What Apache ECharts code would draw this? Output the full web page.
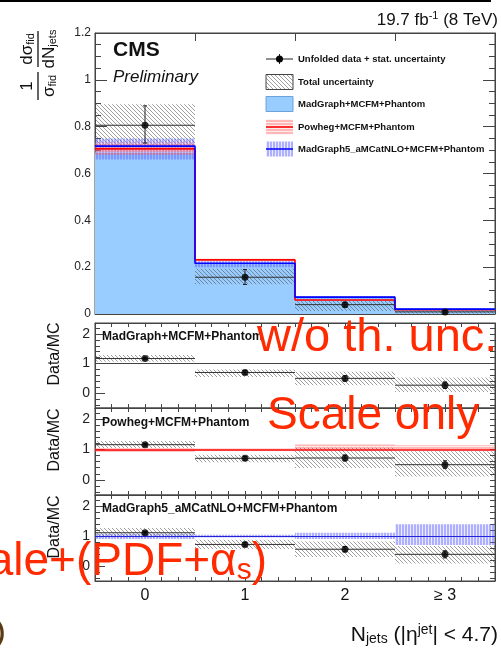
<!DOCTYPE html>
<html><head><meta charset="utf-8">
<script src="https://cdn.jsdelivr.net/npm/echarts@6/dist/echarts.min.js"></script>
<style>html,body{margin:0;padding:0;background:#fff}#c{width:501px;height:654px}</style>
</head><body><div id="c"></div>
<script>
// ---------- data ----------
const BIN_CENTERS = [0, 1, 2, 3];
const X_LABELS = ['0', '1', '2', '≥ 3'];
// top panel: normalized distribution
const DATA = [0.806, 0.157, 0.040, 0.009];
const DATA_STAT_LO = [0.730, 0.126, 0.030, 0.004];
const DATA_STAT_HI = [0.889, 0.190, 0.050, 0.015];
const TOTAL_LO = [0.720, 0.127, 0.013, 0.002];
const TOTAL_HI = [0.896, 0.193, 0.056, 0.016];
const MG = [0.690, 0.218, 0.072, 0.022];
const POWHEG = [0.705, 0.231, 0.060, 0.018];
const POWHEG_LO = [0.680, 0.226, 0.057, 0.016];
const POWHEG_HI = [0.732, 0.236, 0.064, 0.021];
const AMC = [0.717, 0.217, 0.072, 0.021];
const AMC_LO = [0.660, 0.200, 0.066, 0.017];
const AMC_HI = [0.750, 0.226, 0.077, 0.025];
// ratio panel 1: MadGraph (w/o th. unc.)
const R1 = [1.17, 0.70, 0.50, 0.27];
const R1_STAT_LO = [1.13, 0.64, 0.41, 0.16];
const R1_STAT_HI = [1.21, 0.76, 0.59, 0.38];
const R1_TOT_LO = [1.06, 0.55, 0.27, 0.04];
const R1_TOT_HI = [1.29, 0.80, 0.72, 0.53];
// ratio panel 2: Powheg (scale only)
const R2 = [1.16, 0.71, 0.72, 0.50];
const R2_STAT_LO = [1.12, 0.65, 0.62, 0.37];
const R2_STAT_HI = [1.20, 0.77, 0.82, 0.63];
const R2_TOT_LO = [1.05, 0.58, 0.39, 0.11];
const R2_TOT_HI = [1.28, 0.83, 1.06, 0.94];
const R2_BAND_LO = [0.93, 0.97, 1.00, 1.00];
const R2_BAND_HI = [1.04, 1.03, 1.17, 1.14];
// ratio panel 3: aMC@NLO (scale+(PDF+alpha_s))
const R3 = [1.11, 0.72, 0.56, 0.39];
const R3_STAT_LO = [1.07, 0.66, 0.47, 0.27];
const R3_STAT_HI = [1.15, 0.78, 0.65, 0.51];
const R3_TOT_LO = [0.95, 0.57, 0.30, 0.08];
const R3_TOT_HI = [1.27, 0.88, 0.82, 0.67];
const R3_BAND_LO = [0.90, 0.95, 0.90, 0.70];
const R3_BAND_HI = [1.07, 1.04, 1.11, 1.39];
const REF = 1;
const RATIO_LABELS = [0, 1, 2];
const PANEL_LABELS = ['MadGraph+MCFM+Phantom', 'Powheg+MCFM+Phantom', 'MadGraph5_aMCatNLO+MCFM+Phantom'];
const LEGEND_LABELS = ['Unfolded data + stat. uncertainty', 'Total uncertainty', 'MadGraph+MCFM+Phantom', 'Powheg+MCFM+Phantom', 'MadGraph5_aMCatNLO+MCFM+Phantom'];

// ---------- styling helpers ----------
const FONT = '"Liberation Sans", Arial, Helvetica, sans-serif';
const HALF = 0.5;
const X_MIN = -0.5, X_MAX = 3.5;

function canvasPattern(w, h, draw) {
  const c = document.createElement('canvas'); c.width = w; c.height = h;
  draw(c.getContext('2d'), w, h);
  return { type: 'pattern', image: c, repeat: 'repeat' };
}
const HATCH = canvasPattern(4, 4, (g, w, h) => {
  g.strokeStyle = 'rgba(70,70,70,0.75)'; g.lineWidth = 0.7;
  g.beginPath(); g.moveTo(-1, -1); g.lineTo(w + 1, h + 1); g.stroke();
});
const PINK = canvasPattern(4, 3, (g) => {
  g.fillStyle = 'rgba(255,95,95,0.45)'; g.fillRect(0, 0, 4, 2);
  g.fillStyle = 'rgba(255,170,170,0.25)'; g.fillRect(0, 2, 4, 1);
});
const VSTRIPE = canvasPattern(3, 4, (g) => {
  g.fillStyle = 'rgba(95,95,255,0.5)'; g.fillRect(0, 0, 2, 4);
  g.fillStyle = 'rgba(150,150,255,0.2)'; g.fillRect(2, 0, 1, 4);
});

function rectSeries(xi, yi, lo, hi, fill, z) {
  return {
    type: 'custom', xAxisIndex: xi, yAxisIndex: yi, z: z, silent: true, animation: false,
    data: BIN_CENTERS.map((c, i) => [c, lo[i], hi[i]]),
    renderItem: (p, api) => {
      const a = api.coord([api.value(0) - HALF, api.value(2)]);
      const b = api.coord([api.value(0) + HALF, api.value(1)]);
      return { type: 'rect', shape: { x: a[0], y: a[1], width: b[0] - a[0], height: b[1] - a[1] }, style: { fill: fill } };
    }
  };
}
function stepSeries(xi, yi, vals, color, z) {
  const pts = [];
  BIN_CENTERS.forEach((c, i) => { pts.push([c - HALF, vals[i]]); pts.push([c + HALF, vals[i]]); });
  return { type: 'line', xAxisIndex: xi, yAxisIndex: yi, z: z, data: pts, symbol: 'none', silent: true, animation: false,
    lineStyle: { color: color, width: 1.6 } };
}
function errSeries(xi, yi, vals, lo, hi, z) {
  return {
    type: 'custom', xAxisIndex: xi, yAxisIndex: yi, z: z, silent: true, animation: false,
    data: BIN_CENTERS.map((c, i) => [c, vals[i], lo[i], hi[i]]),
    renderItem: (p, api) => {
      const l = api.coord([api.value(0) - HALF, api.value(1)]);
      const r = api.coord([api.value(0) + HALF, api.value(1)]);
      const t = api.coord([api.value(0), api.value(3)]);
      const b = api.coord([api.value(0), api.value(2)]);
      const st = { stroke: '#222', lineWidth: 1 };
      return { type: 'group', children: [
        { type: 'line', shape: { x1: l[0], y1: l[1], x2: r[0], y2: r[1] }, style: { stroke: '#333', lineWidth: 1 } },
        { type: 'line', shape: { x1: t[0], y1: t[1], x2: b[0], y2: b[1] }, style: st },
        { type: 'line', shape: { x1: t[0] - 2, y1: t[1], x2: t[0] + 2, y2: t[1] }, style: st },
        { type: 'line', shape: { x1: b[0] - 2, y1: b[1], x2: b[0] + 2, y2: b[1] }, style: st }
      ] };
    }
  };
}
function pointSeries(xi, yi, vals, z, refColor, refWidth) {
  const s = { type: 'scatter', xAxisIndex: xi, yAxisIndex: yi, z: z, silent: true, animation: false,
    data: BIN_CENTERS.map((c, i) => [c, vals[i]]), symbol: 'circle', symbolSize: 7, itemStyle: { color: '#000' } };
  if (refColor) s.markLine = { silent: true, symbol: 'none', animation: false, label: { show: false },
    lineStyle: { color: refColor, width: refWidth, type: 'solid' }, data: [{ yAxis: REF }] };
  return s;
}

// ---------- axes ----------
const GRIDS = [
  { left: 95, top: 33, width: 400, height: 281 },
  { left: 95, top: 323, width: 400, height: 85 },
  { left: 95, top: 408, width: 400, height: 87 },
  { left: 95, top: 495, width: 400, height: 86 }
].map(g => Object.assign(g, { show: true, borderColor: '#444', borderWidth: 1, backgroundColor: 'transparent' }));

const AX = { color: '#444', width: 1 };
const AXL = { onZero: false, lineStyle: AX };
const SIXTHS = []; for (let k = 1; k < 24; k++) SIXTHS.push(X_MIN + k / 6);
const RT = []; for (let k = -4; k <= 22; k += 2) RT.push(k / 10);

const xAxis = [
  { gridIndex: 0, type: 'value', min: X_MIN, max: X_MAX, position: 'bottom', axisLine: AXL,
    axisTick: { inside: true, length: 8, customValues: [0.5, 1.5, 2.5], lineStyle: AX }, axisLabel: { show: false }, splitLine: { show: false } },
  { gridIndex: 0, type: 'value', min: X_MIN, max: X_MAX, position: 'top', axisLine: AXL,
    axisTick: { inside: true, length: 8, customValues: [0.5, 1.5, 2.5], lineStyle: AX }, axisLabel: { show: false }, splitLine: { show: false } }
];
for (let g = 1; g <= 3; g++) {
  ['bottom', 'top'].forEach(pos => {
    const showLab = (g === 3 && pos === 'bottom');
    xAxis.push({ gridIndex: g, type: 'value', min: X_MIN, max: X_MAX, position: pos, axisLine: AXL,
      axisTick: { inside: true, length: 4, customValues: SIXTHS, lineStyle: AX },
      axisLabel: showLab ? { show: true, customValues: BIN_CENTERS, formatter: v => X_LABELS[Math.round(v)],
        fontFamily: FONT, fontSize: 16, color: '#111', margin: 7 } : { show: false },
      splitLine: { show: false } });
  });
}
const yAxis = [
  { gridIndex: 0, type: 'value', min: 0, max: 1.2, interval: 0.2, position: 'left', axisLine: AXL,
    axisTick: { inside: true, length: 12, lineStyle: AX }, minorTick: { show: true, splitNumber: 4, length: 6, lineStyle: AX },
    axisLabel: { formatter: v => String(+v.toFixed(1)), fontFamily: FONT, fontSize: 12, color: '#222', margin: 4 },
    splitLine: { show: false }, minorSplitLine: { show: false } },
  { gridIndex: 0, type: 'value', min: 0, max: 1.2, interval: 0.2, position: 'right', axisLine: AXL,
    axisTick: { inside: true, length: 12, lineStyle: AX }, minorTick: { show: true, splitNumber: 4, length: 6, lineStyle: AX },
    axisLabel: { show: false }, splitLine: { show: false } }
];
const RMIN = -0.5, RMAX = 2.37;
for (let g = 1; g <= 3; g++) {
  yAxis.push({ gridIndex: g, type: 'value', min: RMIN, max: RMAX, position: 'left', axisLine: AXL,
    axisTick: { inside: true, length: 5, customValues: RT, lineStyle: AX },
    axisLabel: { customValues: RATIO_LABELS, formatter: v => String(Math.round(v)), fontFamily: FONT, fontSize: 14, color: '#222', margin: 5 },
    splitLine: { show: false } });
  yAxis.push({ gridIndex: g, type: 'value', min: RMIN, max: RMAX, position: 'left', axisLine: { show: false, onZero: false },
    axisTick: { inside: true, length: 10, customValues: RATIO_LABELS, lineStyle: AX }, axisLabel: { show: false }, splitLine: { show: false } });
  yAxis.push({ gridIndex: g, type: 'value', min: RMIN, max: RMAX, position: 'right', axisLine: AXL,
    axisTick: { inside: true, length: 5, customValues: RT, lineStyle: AX }, axisLabel: { show: false }, splitLine: { show: false } });
}
const rx = p => 2 * p, ry = p => 2 + 3 * (p - 1);

// ---------- series ----------
const series = [
  rectSeries(0, 0, MG.map(() => 0), MG, '#99ccff', 1),
  rectSeries(0, 0, TOTAL_LO, TOTAL_HI, HATCH, 2),
  rectSeries(0, 0, AMC_LO, AMC_HI, VSTRIPE, 3),
  rectSeries(0, 0, POWHEG_LO, POWHEG_HI, PINK, 3),
  stepSeries(0, 0, POWHEG, '#ff0000', 4),
  stepSeries(0, 0, AMC, '#0000ff', 4),
  errSeries(0, 0, DATA, DATA_STAT_LO, DATA_STAT_HI, 5),
  pointSeries(0, 0, DATA, 6),
  rectSeries(rx(1), ry(1), R1_TOT_LO, R1_TOT_HI, HATCH, 2),
  errSeries(rx(1), ry(1), R1, R1_STAT_LO, R1_STAT_HI, 5),
  pointSeries(rx(1), ry(1), R1, 6, '#444', 1),
  rectSeries(rx(2), ry(2), R2_BAND_LO, R2_BAND_HI, PINK, 1),
  rectSeries(rx(2), ry(2), R2_TOT_LO, R2_TOT_HI, HATCH, 2),
  errSeries(rx(2), ry(2), R2, R2_STAT_LO, R2_STAT_HI, 5),
  pointSeries(rx(2), ry(2), R2, 6, '#ff0000', 1.5),
  rectSeries(rx(3), ry(3), R3_BAND_LO, R3_BAND_HI, VSTRIPE, 1),
  rectSeries(rx(3), ry(3), R3_TOT_LO, R3_TOT_HI, HATCH, 2),
  errSeries(rx(3), ry(3), R3, R3_STAT_LO, R3_STAT_HI, 5),
  pointSeries(rx(3), ry(3), R3, 6, '#2222dd', 1)
];

// ---------- text / legend graphics ----------
function T(text, x, y, font, opts) {
  return { type: 'text', z: 100, style: Object.assign({ text: text, x: x, y: y, font: font, fill: '#111',
    align: 'left', textAlign: 'left', verticalAlign: 'middle', textVerticalAlign: 'middle' }, opts || {}) };
}
const INK = '#111';
const RED = '#ff2a00';
const LEGY = [59, 82, 104, 127, 149];
const graphic = [
  { type: 'rect', z: 100, shape: { x: 0, y: 0, width: 491, height: 2 }, style: { fill: '#000' } },
  T('{m|19.7 fb}{p|-1}{m| (8 TeV)}', 498, 20, '17px ' + FONT, { align: 'right', textAlign: 'right',
    rich: { m: { fontSize: 17, fontFamily: FONT, fill: INK }, p: { fontSize: 11, fontFamily: FONT, fill: INK, verticalAlign: 'top', lineHeight: 20 } } }),
  T('CMS', 113, 50, 'bold 21px ' + FONT),
  T('Preliminary', 113, 77, 'italic 17px ' + FONT),
  { type: 'line', z: 100, shape: { x1: 266, y1: LEGY[0], x2: 293, y2: LEGY[0] }, style: { stroke: '#222', lineWidth: 1 } },
  { type: 'line', z: 100, shape: { x1: 279.5, y1: LEGY[0] - 5, x2: 279.5, y2: LEGY[0] + 5 }, style: { stroke: '#222', lineWidth: 1 } },
  { type: 'circle', z: 101, shape: { cx: 279.5, cy: LEGY[0], r: 3.5 }, style: { fill: '#000' } },
  { type: 'rect', z: 100, shape: { x: 266, y: LEGY[1] - 7.5, width: 27, height: 15 }, style: { fill: HATCH, stroke: '#444', lineWidth: 1 } },
  { type: 'rect', z: 100, shape: { x: 266, y: LEGY[2] - 7.5, width: 27, height: 15 }, style: { fill: '#99ccff', stroke: '#6aa2dc', lineWidth: 1 } },
  { type: 'rect', z: 100, shape: { x: 266, y: LEGY[3] - 7.5, width: 27, height: 15 }, style: { fill: PINK } },
  { type: 'line', z: 101, shape: { x1: 266, y1: LEGY[3], x2: 293, y2: LEGY[3] }, style: { stroke: '#ff0000', lineWidth: 1.5 } },
  { type: 'rect', z: 100, shape: { x: 266, y: LEGY[4] - 7.5, width: 27, height: 15 }, style: { fill: VSTRIPE } },
  { type: 'line', z: 101, shape: { x1: 266, y1: LEGY[4], x2: 293, y2: LEGY[4] }, style: { stroke: '#0000ff', lineWidth: 1.5 } }
];
LEGEND_LABELS.forEach((s, i) => graphic.push(T(s, 298, LEGY[i], 'bold 9.5px ' + FONT)));
const PANEL_Y = [337, 423, 509];
PANEL_LABELS.forEach((s, i) => graphic.push(T(s, 102, PANEL_Y[i], 'bold 12px ' + FONT)));
[354, 440, 527].forEach(y => {
  const t = T('Data/MC', 0, 0, '16px ' + FONT, { align: 'center', textAlign: 'center' });
  t.x = 55; t.y = y; t.rotation = Math.PI / 2; graphic.push(t);
});
const subRich = {
  m: { fontSize: 17, fontFamily: FONT, fill: INK, lineHeight: 18 },
  s: { fontSize: 11, fontFamily: FONT, fill: INK, verticalAlign: 'bottom', lineHeight: 14 }
};
graphic.push({ type: 'group', x: 38, y: 66, rotation: Math.PI / 2, z: 100, children: [
  { type: 'text', style: { text: '1', x: -20, y: -2, font: '17px ' + FONT, fill: INK, align: 'center', textAlign: 'center', verticalAlign: 'bottom', textVerticalAlign: 'bottom' } },
  { type: 'line', shape: { x1: -34, y1: 0, x2: -6, y2: 0 }, style: { stroke: INK, lineWidth: 1.3 } },
  { type: 'text', style: { text: '{m|σ}{s|fid}', rich: subRich, x: -20, y: 2, font: '17px ' + FONT, align: 'center', textAlign: 'center', verticalAlign: 'top', textVerticalAlign: 'top' } },
  { type: 'text', style: { text: '{m|dσ}{s|fid}', rich: subRich, x: 17, y: -2, font: '17px ' + FONT, align: 'center', textAlign: 'center', verticalAlign: 'bottom', textVerticalAlign: 'bottom' } },
  { type: 'line', shape: { x1: -1, y1: 0, x2: 35, y2: 0 }, style: { stroke: INK, lineWidth: 1.3 } },
  { type: 'text', style: { text: '{m|dN}{s|jets}', rich: subRich, x: 17, y: 2, font: '17px ' + FONT, align: 'center', textAlign: 'center', verticalAlign: 'top', textVerticalAlign: 'top' } }
] });
graphic.push(T('{m|N}{s|jets}{m| (|η}{p|jet}{m|| < 4.7)}', 498, 635, '21px ' + FONT, { align: 'right', textAlign: 'right',
  rich: { m: { fontSize: 21, fontFamily: FONT, fill: INK, lineHeight: 23 },
          s: { fontSize: 14, fontFamily: FONT, fill: INK, verticalAlign: 'bottom', lineHeight: 14 },
          p: { fontSize: 14, fontFamily: FONT, fill: INK, verticalAlign: 'top', lineHeight: 14 } } }));
graphic.push(T('w/o th. unc.', 257, 338, '47px ' + FONT, { fill: RED }));
graphic.push(T('Scale only', 267, 416, '46px ' + FONT, { fill: RED }));
graphic.push(T('{m|ale+(PDF+α}{s|s}{m|)}', 267, 562, '46px ' + FONT, { align: 'right', textAlign: 'right', fill: RED,
  rich: { m: { fontSize: 46, fontFamily: FONT, fill: RED, lineHeight: 48 },
          s: { fontSize: 30, fontFamily: FONT, fill: RED, verticalAlign: 'bottom', lineHeight: 34 } } }));
graphic.push(T(')', -3, 633, 'bold 24px ' + FONT, { fill: '#5a3a10' }));

const chart = echarts.init(document.getElementById('c'), null, { renderer: 'canvas' });
chart.setOption({ animation: false, grid: GRIDS, xAxis: xAxis, yAxis: yAxis, series: series, graphic: graphic });
</script></body></html>
